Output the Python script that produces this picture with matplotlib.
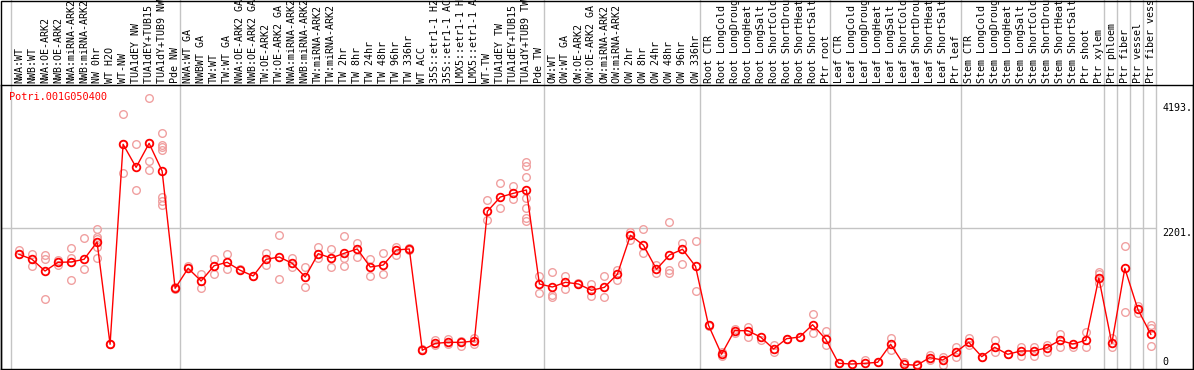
import numpy as np
import matplotlib.pyplot as plt
from matplotlib import transforms
from matplotlib.patches import Rectangle

#Data
gene = 'Potri.001G050400'

samples = ['NWA:WT', 'NWB:WT', 'NWA:OE-ARK2', 'NWB:OE-ARK2', 'NWA:miRNA-ARK2', 'NWB:miRNA-ARK2',
           'NW 0hr', 'WT H2O', 'WT-NW', 'TUA1dEY NW', 'TUA1dEY+TUB15 NW', 'TUA1dY+TUB9 NW', 'Pde NW',
           'NWA:WT GA', 'NWBWT GA', 'TW:WT', 'TW:WT GA', 'NWA:OE-ARK2 GA', 'NWB:OE-ARK2 GA',
           'TW:OE-ARK2', 'TW:OE-ARK2 GA', 'NWA:miRNA-ARK2 GA', 'NWB:miRNA-ARK2 GA', 'TW:miRNA-ARK2',
           'TW:miRNA-ARK2 GA', 'TW 2hr', 'TW 8hr', 'TW 24hr', 'TW 48hr', 'TW 96hr', 'TW 336hr',
           'WT ACC', '35S::etr1-1 H2O', '35S::etr1-1 ACC', 'LMX5::etr1-1 H2O', 'LMX5::etr1-1 ACC',
           'WT-TW', 'TUA1dEY TW', 'TUA1dEY+TUB15 TW', 'TUA1dY+TUB9 TW', 'Pde TW',
           'OW:WT', 'OW:WT GA', 'OW:OE-ARK2', 'OW:OE-ARK2 GA', 'OW:miRNA-ARK2', 'OW:miRNA-ARK2 GA',
           'OW 2hr', 'OW 8hr', 'OW 24hr', 'OW 48hr', 'OW 96hr', 'OW 336hr',
           'Root CTR', 'Root LongCold', 'Root LongDrought', 'Root LongHeat', 'Root LongSalt',
           'Root ShortCold', 'Root ShortDrought', 'Root ShortHeat', 'Root ShortSalt', 'Ptr root',
           'Leaf CTR', 'Leaf LongCold', 'Leaf LongDrought', 'Leaf LongHeat', 'Leaf LongSalt',
           'Leaf ShortCold', 'Leaf ShortDrought', 'Leaf ShortHeat', 'Leaf ShortSalt', 'Ptr leaf',
           'Stem CTR', 'Stem LongCold', 'Stem LongDrought', 'Stem LongHeat', 'Stem LongSalt',
           'Stem ShortCold', 'Stem ShortDrought', 'Stem ShortHeat', 'Stem ShortSalt', 'Ptr shoot',
           'Ptr xylem', 'Ptr phloem', 'Ptr fiber', 'Ptr vessel', 'Ptr fiber vessel']

means = [1786, 1706, 1519, 1658, 1663, 1706, 1982, 350, 3542, 3174, 3557, 3115, 1243,
         1562, 1360, 1604, 1658, 1531, 1440, 1706, 1743, 1642, 1424, 1796, 1727, 1802, 1871,
         1583, 1615, 1855, 1871, 254, 365, 381, 381, 402, 2472, 2700, 2759, 2812, 1312,
         1264, 1339, 1312, 1211, 1259, 1471, 2089, 1930, 1547, 1775, 1866, 1594,
         653, 190, 567, 567, 466, 275, 439, 466, 662, 434,
         46, 35, 46, 62, 350, 30, 14, 136, 99, 222,
         381, 152, 302, 190, 243, 243, 295, 413, 354, 413,
         1408, 365, 1562, 908, 509]

replicates = [[1855, 1791], [1791, 1604], [1780, 1706, 1072], [1695, 1615], [1886, 1732, 1371],
              [2041, 1547], [2185, 2067, 2025, 1907, 1722], [350, 360], [4025, 3542, 3079],
              [3542, 2807], [4281, 3557, 3270, 3127], [3717, 3535, 3494, 3451, 2705, 2641, 2568],
              [1269, 1230], [1604], [1471, 1243], [1706, 1467], [1791, 1547], [1551], [1440],
              [1802, 1620], [2094, 1392], [1732, 1578], [1578, 1264], [1902, 1722], [1871, 1578],
              [2078, 1727, 1599], [1961, 1748], [1716, 1440], [1802, 1471], [1907, 1775],
              [1880, 1860], [254, 270], [418, 338], [434, 354], [402, 322], [450, 359],
              [2653, 2333], [2919, 2520], [2881, 2664],
              [3259, 3195, 3015, 2680, 2520, 2360, 2322], [1435, 1163],
              [1499, 1141, 1109], [1440, 1227], [1323], [1307, 1125], [1440, 1100], [1535, 1376],
              [2142, 2014], [2185, 1802], [1615, 1492], [2297, 1535, 1492], [1971, 1631],
              [1993, 1195], [653, 640], [226, 158], [589, 525], [621, 471], [418], [338, 222],
              [439], [466], [833, 525], [562, 338], [46], [35], [99], [62], [450, 259], [67],
              [35], [174, 99], [152, 24], [302, 152], [445, 338], [152], [418, 231], [190],
              [302, 168], [302, 168], [338, 231], [509, 311], [302], [541, 302],
              [1508, 1471, 1323], [445, 311], [1918, 860], [961, 854], [658, 605, 322]]

group_starts = [0, 13, 41, 53, 63, 73, 84, 85, 86, 87, 88]
ytick_vals = [4193, 2201, 0]
ytick_labels = ['4193.', '2201.', '0']

#### Plot ##########################################################################
plt.rcParams['font.family'] = 'DejaVu Sans Mono'
W, H = 1194, 370
fig = plt.figure(figsize=(W / 100, H / 100), dpi=100)
ax = fig.add_axes([1 / W, 1 / H, 1192 / W, 284 / H])
ax.set_xlim(-1.384, 90.24)
ax.set_ylim(-44.7, 4488)
ax.set_xticks([])
ax.set_yticks([])
for s in ax.spines.values():
    s.set_linewidth(1.0)
    s.set_color('black')

x = np.arange(len(samples))
grid_c = '#c4c4c4'

#group separators run up through the label area
for k in group_starts:
    ax.axvline(k - 0.63, ymin=0, ymax=1.31, color=grid_c, lw=1.0, clip_on=False, zorder=0)
ax.hlines(2201, -1.384, group_starts[-1] - 0.63, color=grid_c, lw=1.0, zorder=0)

#replicates then means
rx = [i for i, r in enumerate(replicates) for _ in r]
ry = [v for r in replicates for v in r]
ax.plot(rx, ry, 'o', ms=5.5, mfc='none', mec='#f0a0a0', mew=1.0, zorder=2)
ax.plot(x, means, '-', color='red', lw=1.0, zorder=3)
ax.plot(x, means, 'o', ms=5.5, mfc='none', mec='red', mew=1.3, zorder=4)

#sample labels above the plot
trans = transforms.blended_transform_factory(ax.transData, ax.transAxes)
for i, lbl in enumerate(samples):
    ax.text(i, 1 + 2 / 284, lbl, transform=trans, rotation=90, ha='center', va='bottom',
            fontsize=7.2, color='black', clip_on=False)

#gene name
ax.text(-0.75, 4300, gene, color='red', fontsize=7.4, ha='left', va='center')

#value labels on the right
ax.annotate(ytick_labels[0], xy=(87.9, ytick_vals[0]), xytext=(0, -4.5), textcoords='offset pixels',
            fontsize=7.2, ha='left', va='center', annotation_clip=False)
ax.annotate(ytick_labels[1], xy=(87.9, ytick_vals[1]), xytext=(0, -4.5), textcoords='offset pixels',
            fontsize=7.2, ha='left', va='center', annotation_clip=False)
ax.annotate(ytick_labels[2], xy=(87.9, ytick_vals[2]), xytext=(0, 4), textcoords='offset pixels',
            fontsize=7.2, ha='left', va='center', annotation_clip=False)

#outer frame round the label area
fig.patches.append(Rectangle((0.5 / W, 0.5 / H), 1192.5 / W, 369 / H, transform=fig.transFigure,
                             fill=False, edgecolor='black', lw=1.0))

plt.savefig('out.png', dpi=100)
